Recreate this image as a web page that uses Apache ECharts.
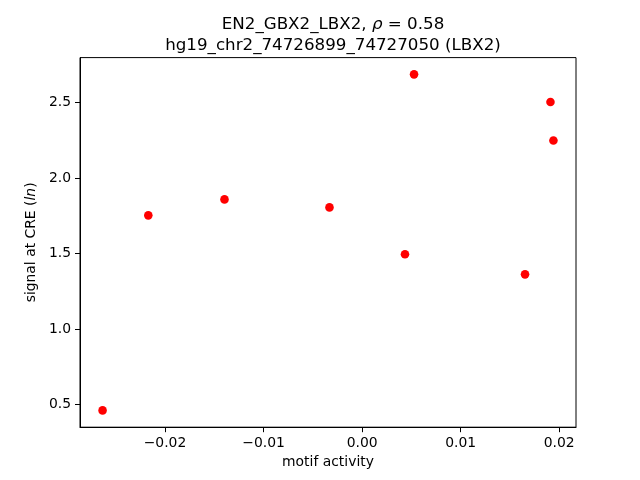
<!DOCTYPE html>
<html>
<head>
<meta charset="utf-8">
<script src="https://cdn.jsdelivr.net/npm/echarts@6/dist/echarts.min.js"></script>
<style>html,body{margin:0;padding:0;background:#fff}#c{width:640px;height:480px}</style>
</head>
<body>
<div id="c"></div>
<script>
var motifActivity = [-0.02633, -0.02169, -0.01396, -0.00331, 0.00435, 0.00527, 0.01653, 0.01911, 0.01941];
var signalAtCRE   = [0.460, 1.753, 1.859, 1.806, 1.495, 2.688, 1.362, 2.505, 2.249];
var xTicks = [-0.02, -0.01, 0.00, 0.01, 0.02];
var yTicks = [0.5, 1.0, 1.5, 2.0, 2.5];
var titleLine1 = ['EN2_GBX2_LBX2, ', 'ρ', ' = 0.58'];
var titleLine2 = 'hg19_chr2_74726899_74727050 (LBX2)';

var xMin = -0.02862, xMax = 0.02170, yMin = 0.3486, yMax = 2.799;
var FONT = 'DejaVu Sans';
function fmtMinus(s){ return s.replace('-', '\u2212'); }

var pts = motifActivity.map(function(x, i){ return [x, signalAtCRE[i]]; });
var chart = echarts.init(document.getElementById('c'), null, {renderer: 'canvas'});
chart.setOption({
  animation: false,
  backgroundColor: '#fff',
  title: [{
    text: '{a|' + titleLine1[0] + '}{i|' + titleLine1[1] + '}{a|' + titleLine1[2] + '}',
    left: 328, top: 11, textAlign: 'center',
    textStyle: {
      fontWeight: 'normal',
      rich: {
        a: {fontFamily: FONT, fontSize: 16.7, fontWeight: 'normal', color: '#000'},
        i: {fontFamily: FONT, fontSize: 16.7, fontWeight: 'normal', fontStyle: 'italic', color: '#000'}
      }
    }
  }, {
    text: titleLine2,
    left: 328, top: 32, textAlign: 'center',
    textStyle: {fontFamily: FONT, fontSize: 16.7, fontWeight: 'normal', color: '#000'}
  }],
  grid: {left: 80, right: 64, top: 57.6, bottom: 52.8, show: true, borderColor: '#000', borderWidth: 1, backgroundColor: 'transparent'},
  xAxis: {
    type: 'value', min: xMin, max: xMax,
    name: 'motif activity', nameLocation: 'middle', nameGap: 28,
    nameTextStyle: {fontFamily: FONT, fontSize: 13.9, color: '#000'},
    axisLine: {show: true, onZero: false, lineStyle: {color: '#000', width: 1}},
    axisTick: {show: true, inside: false, length: 5, lineStyle: {color: '#000'}, customValues: xTicks},
    axisLabel: {show: true, margin: 9, fontFamily: FONT, fontSize: 13.9, color: '#000', customValues: xTicks,
      formatter: function(v){ return fmtMinus(v.toFixed(2)); }},
    splitLine: {show: false}
  },
  yAxis: {
    type: 'value', min: yMin, max: yMax,
    name: '{a|signal at CRE (}{i|ln}{a|)}', nameLocation: 'middle', nameGap: 40,
    nameTextStyle: {rich: {
      a: {fontFamily: FONT, fontSize: 13.9, color: '#000'},
      i: {fontFamily: FONT, fontSize: 13.9, fontStyle: 'italic', color: '#000'}
    }},
    axisLine: {show: true, onZero: false, lineStyle: {color: '#000', width: 1}},
    axisTick: {show: true, inside: false, length: 5, lineStyle: {color: '#000'}, customValues: yTicks},
    axisLabel: {show: true, margin: 9, fontFamily: FONT, fontSize: 13.9, color: '#000', customValues: yTicks,
      formatter: function(v){ return v.toFixed(1); }},
    splitLine: {show: false}
  },
  series: [{
    type: 'scatter',
    data: pts,
    symbol: 'circle',
    symbolSize: 8.6,
    itemStyle: {color: '#ff0000', opacity: 1}
  }]
});
</script>
</body>
</html>
